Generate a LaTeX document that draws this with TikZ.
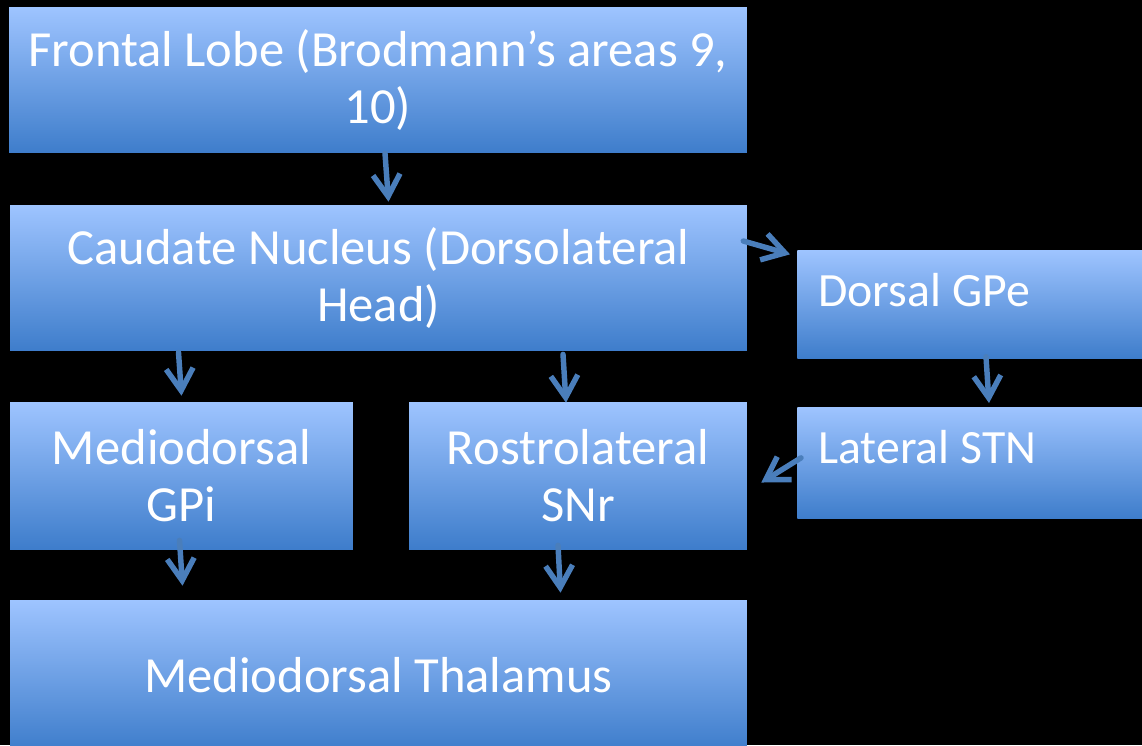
\documentclass[tikz,border=0pt]{standalone}
\usepackage{fontspec}
\setmainfont{Carlito}
\usepackage{tikz}
\usetikzlibrary{positioning,arrows.meta,calc}

\definecolor{boxtop}{RGB}{158,196,255}
\definecolor{boxbot}{RGB}{62,125,203}
\definecolor{arrblue}{RGB}{74,126,187}

\begin{document}
\begin{tikzpicture}[
            x=0.02cm, y=-0.02cm,
            % Style for the gradient boxes
            blockbox/.style={top color=boxtop, bottom color=boxbot, draw=none, inner sep=0pt,
                             text=white, align=center, font=\fontsize{28.8}{32.5}\selectfont},
            % Style for free labels
            lbl/.style={text=white, inner sep=0pt, font=\fontsize{27.2}{32.5}\selectfont},
            % Style for the arrows
            arr/.style={-{Straight Barb[length=4.4mm, width=5.4mm]}, line width=3.1pt,
                        color=arrblue, line cap=round, line join=round}
        ]
            % --- background ---
            \fill[black] (0,0) rectangle (1142,745);
            \useasboundingbox (0,0) rectangle (1142,745);

            % --- 1. LEFT COLUMN ---
            \node[blockbox, minimum width=14.76cm, minimum height=2.92cm] (frontal) at (378,80)
                {Frontal Lobe (Brodmann’s areas 9,\\10)};
            \node[blockbox, minimum width=14.74cm, minimum height=2.92cm] (caudate) at (378.5,278)
                {Caudate Nucleus (Dorsolateral\\Head)};

            % --- 2. MIDDLE ROW ---
            \node[blockbox, minimum width=6.86cm, minimum height=2.94cm] (gpi) at (181.5,475.5)
                {Mediodorsal\\GPi};
            \node[blockbox, minimum width=6.76cm, minimum height=2.94cm] (snr) at (578,475.5)
                {Rostrolateral\\SNr};

            % --- 3. BOTTOM ---
            \node[blockbox, minimum width=14.74cm, minimum height=3.0cm] (thal) at (378.5,675)
                {Mediodorsal Thalamus};

            % --- 4. RIGHT COLUMN ---
            \node[blockbox, anchor=north west, minimum width=7.4cm, minimum height=2.16cm] (gpe) at (797,250) {};
            \node[lbl, anchor=west] (gpetxt) at (818,290) {Dorsal GPe};
            \node[blockbox, anchor=north west, minimum width=7.4cm, minimum height=2.22cm] (stn) at (797,407) {};
            \node[lbl, anchor=west] (stntxt) at (818,447) {Lateral STN};

            % --- 5. ARROWS ---
            \draw[arr] ($(frontal.south)+(7,0)$) -- ($(caudate.north)+(10,-3)$);
            \draw[arr] ($(caudate.east)+(-4,-37)$) -- ($(gpe.west)+(-7,-50)$);
            \draw[arr] ($(caudate.south -| gpi.north)+(-3,1)$) -- ($(gpi.north)+(0,-6)$);
            \draw[arr] ($(caudate.south -| snr.north)+(-15,3)$) -- ($(snr.north)+(-12,1)$);
            \draw[arr] ($(gpe.south west)+(189,-2)$) -- ($(stn.north west)+(192,-4)$);
            \draw[arr] ($(stn.west)+(4,-5)$) -- ($(snr.east)+(14,7)$);
            \draw[arr] ($(gpi.south)+(-2,-9)$) -- ($(thal.north)+(-196,-14)$);
            \draw[arr] ($(snr.south)+(-20,-4)$) -- ($(thal.north)+(182,-7)$);

        \end{tikzpicture}
\end{document}
